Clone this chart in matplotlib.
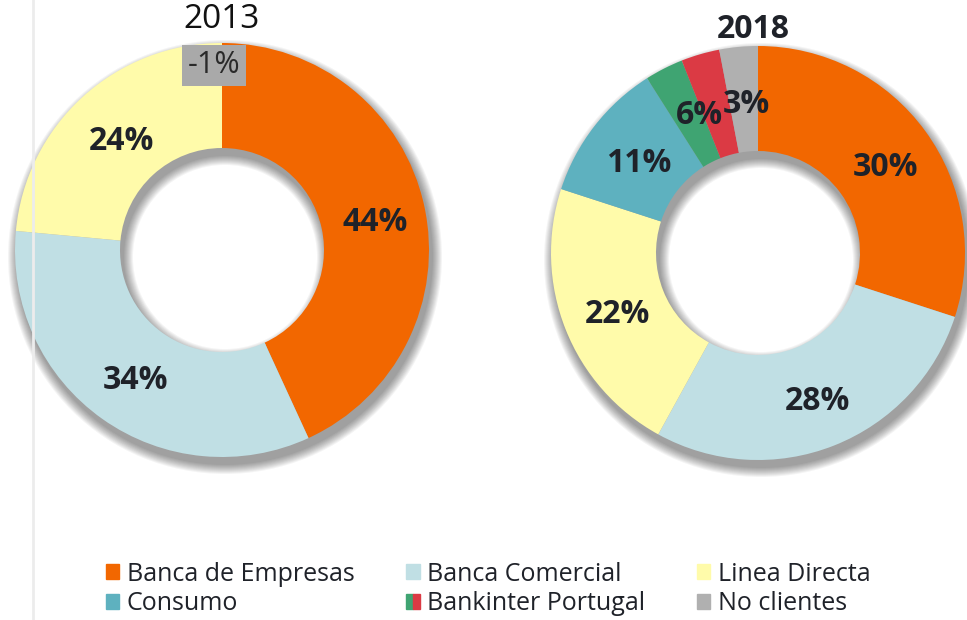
import matplotlib
matplotlib.use("Agg")
import matplotlib.pyplot as plt
from matplotlib.patches import Wedge, Patch
from matplotlib.legend_handler import HandlerTuple
import numpy as np

plt.rcParams["font.family"] = ["Open Sans", "DejaVu Sans"]

# data
years = ["2013", "2018"]
seg_2013 = ["Banca de Empresas", "Banca Comercial", "Linea Directa"]
val_2013 = [44, 34, 24]
no_clientes_2013 = -1

seg_2018 = ["Banca de Empresas", "Banca Comercial", "Linea Directa", "Consumo",
            "Bankinter Portugal (a)", "Bankinter Portugal (b)", "No clientes"]
val_2018 = [30, 28, 22, 11, 3, 3, 3]
bankinter_pt_2018 = 6

colors = {
    "Banca de Empresas": "#F26700",
    "Banca Comercial": "#C0DFE4",
    "Linea Directa": "#FFFBAA",
    "Consumo": "#5EB1BF",
    "Bankinter Portugal (a)": "#3FA472",
    "Bankinter Portugal (b)": "#DB3A44",
    "No clientes": "#B0B0B0",
}
text_col = "#1f2229"

fig = plt.figure(figsize=(9.67, 6.2), dpi=100)
ax = fig.add_axes([0, 0, 1, 1])
ax.set_xlim(0, 967)
ax.set_ylim(0, 620)
ax.set_aspect("equal")
ax.axis("off")

# thin grey rule on the left
ax.plot([33, 33], [0, 620], color="#ececec", lw=2)

R = 207
W = 105


def shadow(c):
    # soft drop shadow of the ring
    for k in range(10):
        s = 1 + k * 1.0
        ax.add_patch(Wedge((c[0] + 3, c[1] - 7), R + s, 0, 360, width=W + 2 * s,
                           color="#000000", alpha=0.045, lw=0))


def donut(c, vals, names, shown):
    shadow(c)
    wedges, texts = ax.pie(vals, colors=[colors[n] for n in names], center=c,
                           radius=R, startangle=90, counterclock=False,
                           wedgeprops=dict(width=W, linewidth=0),
                           labels=shown, labeldistance=0.745, frame=True)
    for t in texts:
        x, y = t.get_position()
        t.set_position((x + 3, y - 5))
        t.set_ha("center")
        t.set_va("center")
        t.set_fontsize(23)
        t.set_fontweight("bold")
        t.set_color(text_col)
    return wedges


c1 = (222, 370)
c2 = (758, 367)

donut(c1, val_2013, seg_2013, [f"{v}%" for v in val_2013])
lab2 = [f"{v}%" for v in val_2018]
lab2[4] = ""
lab2[5] = ""
donut(c2, val_2018, seg_2018, lab2)

# combined Bankinter Portugal label
tot = sum(val_2018)
a0 = sum(val_2018[:4]) / tot * 360
a1 = sum(val_2018[:6]) / tot * 360
mid = np.deg2rad(90 - (a0 + a1) / 2)
rr = R * 0.745
ax.text(c2[0] + rr * np.cos(mid) - 2, c2[1] + rr * np.sin(mid) - 6, f"{bankinter_pt_2018}%",
        ha="center", va="center", fontsize=23, fontweight="bold", color=text_col)

ax.set_xlim(0, 967)
ax.set_ylim(0, 620)
ax.axis("off")

# titles
ax.text(c1[0], 601, years[0], ha="center", va="center", fontsize=24, color="#111111")
ax.text(753, 591, years[1], ha="center", va="center", fontsize=23, fontweight="bold",
        color=text_col)

# -1% box for 2013
ax.text(214, 555, f"{no_clientes_2013}%", ha="center", va="center", fontsize=22,
        color="#2a2a2a",
        bbox=dict(boxstyle="square,pad=0.18", fc="#A9A9A9", ec="none"))

# legend
handles = [
    Patch(color=colors["Banca de Empresas"]),
    Patch(color=colors["Consumo"]),
    Patch(color=colors["Banca Comercial"]),
    (Patch(color=colors["Bankinter Portugal (a)"]), Patch(color=colors["Bankinter Portugal (b)"])),
    Patch(color=colors["Linea Directa"]),
    Patch(color=colors["No clientes"]),
]
labels = ["Banca de Empresas", "Consumo", "Banca Comercial", "Bankinter Portugal",
          "Linea Directa", "No clientes"]
fig.legend(handles, labels, ncol=3, loc="lower left", bbox_to_anchor=(0.086, -0.03),
           frameon=False, fontsize=18, handlelength=0.55, handleheight=0.55,
           handletextpad=0.3, columnspacing=2.05, labelspacing=0.18,
           labelcolor=text_col,
           handler_map={tuple: HandlerTuple(ndivide=2, pad=0)})

fig.savefig("out.png", dpi=100)
